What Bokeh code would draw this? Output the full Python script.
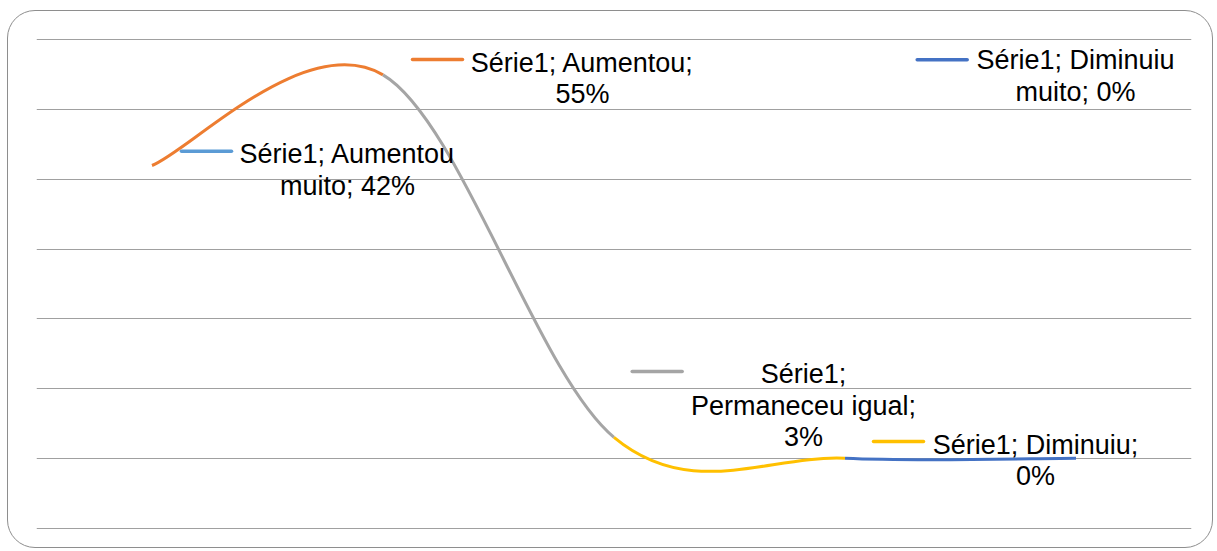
from bokeh.plotting import figure
from bokeh.models import ColumnDataSource, FixedTicker, Range1d
from bokeh.core.properties import value
from bokeh.embed import file_html
from bokeh.resources import INLINE

# ---- data ----
series_name = "Série1"
categories = ["Aumentou muito", "Aumentou", "Permaneceu igual", "Diminuiu", "Diminuiu muito"]
values = [42, 55, 3, 0, 0]
point_colors = ["#5B9BD5", "#ED7D31", "#A5A5A5", "#FFC000", "#4472C4"]
label_lines = [
    ["Série1; Aumentou", "muito; 42%"],
    ["Série1; Aumentou;", "55%"],
    ["Série1;", "Permaneceu igual;", "3%"],
    ["Série1; Diminuiu;", "0%"],
    ["Série1; Diminuiu", "muito; 0%"],
]
grid_ticks = [-10, 0, 10, 20, 30, 40, 50, 60]

# ---- label placement (screen px offsets from the data point) ----
text_dx = [195.5, 199.5, 189.5, 190.5, -0.5]
text_dy0 = [-11, -12, -63, -13.5, -398]
line_step = 31.5
key_dx = [54.5, 54.5, 43.2, 53.5, -133.8]
key_dy = [-14.3, -15.3, -66, -16.8, -398.5]
key_half = 25

W, H = 1206, 538
ML, MR, MT, MB = 28, 23, 25, 18
x_lo, x_hi = 0.5, len(categories) + 0.5
y_lo, y_hi = -10.5, 60.5

p = figure(width=W, height=H, output_backend="svg", toolbar_location=None,
           x_range=Range1d(x_lo, x_hi), y_range=Range1d(y_lo, y_hi),
           min_border_left=ML, min_border_right=MR, min_border_top=MT, min_border_bottom=MB)
p.xaxis.visible = False
p.yaxis.visible = False
p.xgrid.visible = False
p.ygrid.ticker = FixedTicker(ticks=grid_ticks)
p.ygrid.grid_line_color = "#A0A0A0"
p.ygrid.grid_line_width = 1
p.outline_line_color = None
p.background_fill_color = None
p.border_fill_color = None
# rounded chart border
p.styles = {"border": "1px solid #8E8E8E", "border-radius": "28px",
            "margin-left": "7px", "margin-top": "10px"}

# ---- smoothed line (Excel-style bezier) ----
xs = list(range(1, len(categories) + 1))
ys = values
n = len(xs)
bz = dict(x0=[], y0=[], x1=[], y1=[], cx0=[], cy0=[], cx1=[], cy1=[], color=[])
for i in range(n - 1):
    a = i - 1 if i > 0 else i
    d = i + 2 if i + 2 < n else i + 1
    bz["x0"].append(xs[i]); bz["y0"].append(ys[i])
    bz["x1"].append(xs[i + 1]); bz["y1"].append(ys[i + 1])
    bz["cx0"].append(xs[i] + (xs[i + 1] - xs[a]) / 6)
    bz["cy0"].append(ys[i] + (ys[i + 1] - ys[a]) / 6)
    bz["cx1"].append(xs[i + 1] - (xs[d] - xs[i]) / 6)
    bz["cy1"].append(ys[i + 1] - (ys[d] - ys[i]) / 6)
    bz["color"].append(point_colors[i + 1])
p.bezier(x0="x0", y0="y0", x1="x1", y1="y1", cx0="cx0", cy0="cy0", cx1="cx1", cy1="cy1",
         line_color="color", line_width=3, source=ColumnDataSource(bz))

# ---- data labels ----
px_x = (W - ML - MR) / (x_hi - x_lo)
px_y = (H - MT - MB) / (y_hi - y_lo)

kx0, kx1, ky, kc = [], [], [], []
for i in range(n):
    kx0.append(xs[i] + (key_dx[i] - key_half) / px_x)
    kx1.append(xs[i] + (key_dx[i] + key_half) / px_x)
    ky.append(ys[i] - key_dy[i] / px_y)
    kc.append(point_colors[i])
p.segment(x0=kx0, y0=ky, x1=kx1, y1=ky, line_color=kc, line_width=3.5, line_cap="round")

tx, ty, tt, tdx, tdy = [], [], [], [], []
for i in range(n):
    for j, line in enumerate(label_lines[i]):
        tx.append(xs[i]); ty.append(ys[i]); tt.append(line)
        tdx.append(text_dx[i]); tdy.append(text_dy0[i] + j * line_step)
p.text(x="x", y="y", text="text", x_offset="dx", y_offset="dy",
       source=ColumnDataSource(dict(x=tx, y=ty, text=tt, dx=tdx, dy=tdy)),
       text_align="center", text_baseline="alphabetic",
       text_font=value("Liberation Sans"), text_font_size=value("27px"),
       text_color="#000000")

open("out.html", "w").write(file_html(p, INLINE))
